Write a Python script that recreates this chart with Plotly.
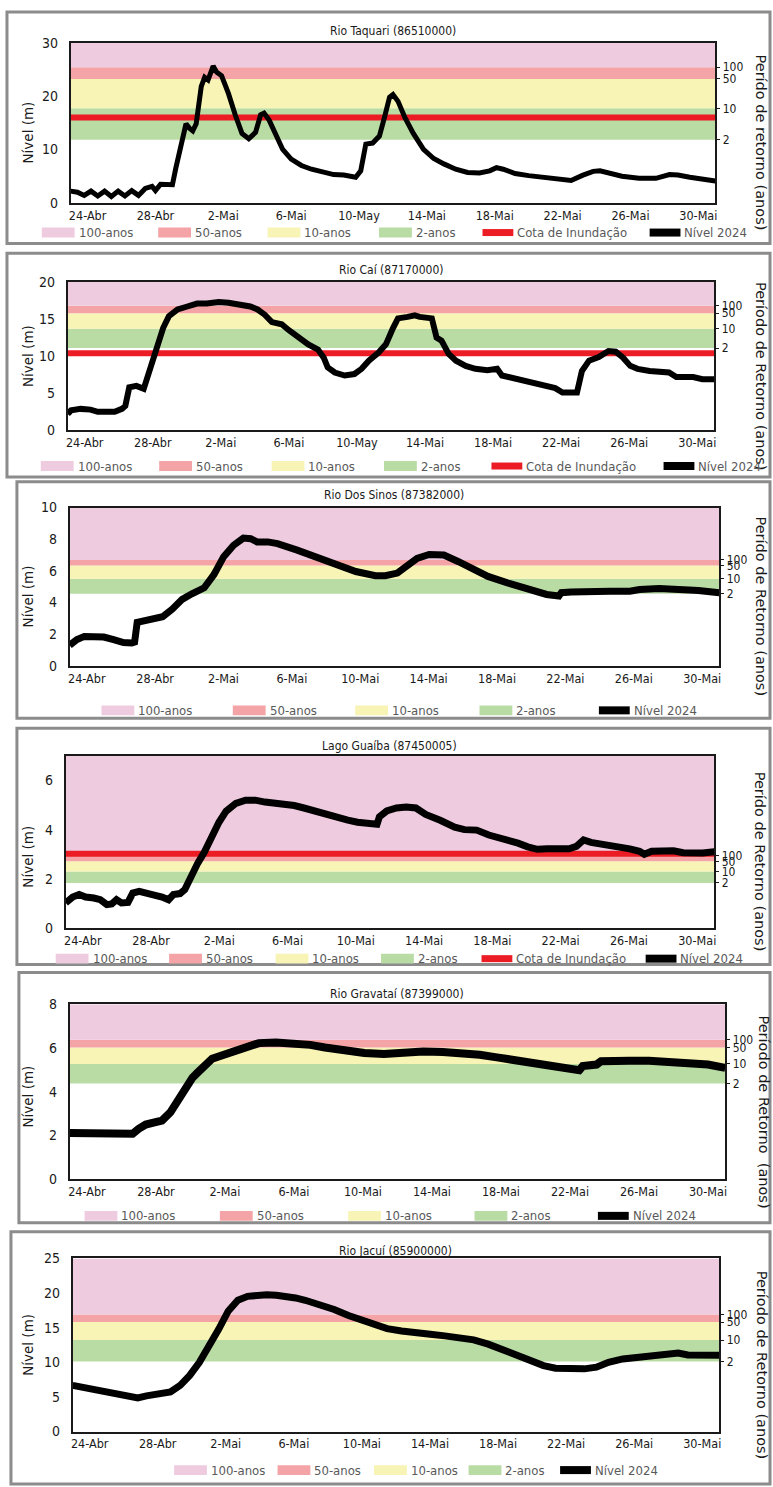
import pandas as pd
import plotly.graph_objects as go

# ---------------- DATA ----------------
inicio = pd.Timestamp("2024-04-23")
tick_dias = [1, 5, 9, 13, 17, 21, 25, 29, 33, 37]
rotulos_x = ["24-Abr", "28-Abr", "2-Mai", "6-Mai", "10-Mai", "14-Mai", "18-Mai", "22-Mai", "26-Mai", "30-Mai"]
rotulos_x_may = ["24-Abr", "28-Abr", "2-Mai", "6-Mai", "10-May", "14-Mai", "18-Mai", "22-Mai", "26-Mai", "30-Mai"]
periodos = ["2", "10", "50", "100"]

taquari_dia = [0.0, 0.4, 0.8, 1.2, 1.6, 2.0, 2.4, 2.8, 3.2, 3.6, 4.0, 4.4, 4.8, 5.0, 5.3, 5.8, 6.0, 6.2, 6.5,
               6.8, 7.0, 7.2, 7.4, 7.7, 7.9, 8.1, 8.4, 8.6, 8.9, 9.3, 9.7, 10.1, 10.5, 10.9, 11.2, 11.4, 11.7,
               12.1, 12.5, 13.0, 13.6, 14.2, 14.8, 15.5, 16.1, 16.8, 17.1, 17.4, 17.8, 18.2, 18.5, 18.8, 19.0,
               19.3, 19.7, 20.2, 20.8, 21.4, 22.0, 22.7, 23.4, 24.1, 24.7, 25.1, 25.5, 26.2, 27.0, 28.0, 29.0,
               29.5, 30.2, 30.8, 31.2, 31.7, 32.5, 33.5, 34.5, 35.3, 35.8, 36.5, 37.3, 38.0]
taquari_nivel = [2.2, 2.0, 1.4, 2.2, 1.3, 2.2, 1.2, 2.2, 1.3, 2.3, 1.4, 2.7, 3.1, 2.3, 3.5, 3.5, 3.4, 6.5, 10.5,
                 14.8, 14.0, 13.5, 14.8, 21.8, 23.5, 23.0, 25.6, 24.5, 23.8, 20.5, 16.5, 13.0, 12.0, 13.2, 16.5,
                 16.8, 15.5, 12.5, 10.0, 8.2, 7.0, 6.3, 5.9, 5.3, 5.2, 4.8, 6.0, 11.0, 11.2, 12.5, 16.0, 19.8,
                 20.3, 19.0, 16.0, 13.0, 10.0, 8.3, 7.3, 6.3, 5.7, 5.6, 6.0, 6.6, 6.3, 5.5, 5.1, 4.8, 4.4, 4.2,
                 5.2, 5.9, 6.0, 5.6, 5.0, 4.6, 4.6, 5.3, 5.2, 4.8, 4.4, 4.1]
taquari_limites = [11.8, 17.7, 23.2, 25.4]
taquari_cota = 16.0

cai_dia = [0.0, 0.2, 0.77, 1.34, 1.77, 2.34, 2.76, 3.19, 3.39, 3.62, 4.04, 4.47, 4.76, 5.18, 5.61, 5.95, 6.46,
           7.03, 7.6, 8.17, 8.88, 9.45, 10.16, 10.73, 11.16, 11.58, 12.0, 12.58, 13.0, 13.57, 14.14, 14.71,
           15.05, 15.28, 15.7, 16.28, 16.85, 17.27, 17.7, 18.27, 18.7, 19.12, 19.41, 19.98, 20.4, 20.69, 21.4,
           21.68, 21.97, 22.39, 22.82, 23.39, 23.96, 24.67, 25.24, 25.52, 26.09, 26.66, 27.09, 27.66, 28.23,
           28.65, 29.08, 29.5, 29.93, 30.22, 30.64, 31.21, 31.78, 32.21, 32.64, 33.06, 33.49, 34.2, 34.91,
           35.34, 35.77, 36.33, 36.76, 37.3, 38.0]
cai_nivel = [2.2, 2.7, 2.9, 2.8, 2.5, 2.5, 2.5, 2.9, 3.3, 5.8, 6.0, 5.6, 7.8, 11.2, 13.8, 15.4, 16.3, 16.7, 17.1,
             17.1, 17.3, 17.2, 17.0, 16.7, 16.3, 15.6, 14.6, 14.3, 13.5, 12.5, 11.6, 10.9, 9.8, 8.5, 7.8, 7.4,
             7.6, 8.3, 9.4, 10.5, 11.6, 13.8, 15.1, 15.3, 15.5, 15.3, 15.1, 12.5, 12.1, 10.3, 9.4, 8.7, 8.3, 8.1,
             8.3, 7.4, 7.1, 6.7, 6.5, 6.3, 5.9, 5.7, 5.1, 5.0, 5.1, 8.0, 9.4, 9.9, 10.7, 10.6, 9.8, 8.7, 8.3, 8.0,
             8.0, 7.8, 7.2, 7.3, 7.2, 6.9, 6.9]
cai_limites = [11.1, 13.7, 15.8, 16.8]
cai_cota = 10.4

sinos_dia = [0.0, 0.43, 0.86, 1.43, 2.0, 2.57, 3.15, 3.63, 3.8, 3.95, 4.29, 4.86, 5.44, 6.0, 6.58, 7.15, 7.87,
             8.44, 9.01, 9.59, 10.16, 10.59, 10.96, 11.59, 12.16, 13.31, 14.45, 15.6, 16.74, 17.89, 18.46, 19.17,
             19.75, 20.32, 21.03, 21.89, 22.75, 23.61, 24.47, 25.61, 26.76, 27.9, 28.62, 28.76, 29.33, 30.48,
             31.62, 32.77, 33.34, 34.49, 35.63, 36.78, 38.0]
sinos_nivel = [1.3, 1.66, 1.86, 1.86, 1.82, 1.66, 1.47, 1.45, 1.5, 2.75, 2.82, 3.02, 3.1, 3.58, 4.2, 4.55, 4.93,
               5.76, 6.9, 7.62, 8.07, 8.03, 7.83, 7.83, 7.72, 7.31, 6.83, 6.38, 5.96, 5.69, 5.69, 5.86, 6.27, 6.79,
               7.04, 7.0, 6.58, 6.13, 5.65, 5.24, 4.89, 4.51, 4.41, 4.62, 4.66, 4.72, 4.72, 4.72, 4.82, 4.89, 4.87,
               4.76, 4.62]
sinos_limites = [4.55, 5.51, 6.34, 6.69]

guaiba_dia = [0.0, 0.41, 0.79, 1.17, 1.65, 2.03, 2.41, 2.7, 2.98, 3.27, 3.65, 3.93, 4.31, 4.7, 5.07, 5.65, 6.03,
              6.31, 6.7, 6.98, 7.27, 7.55, 7.74, 8.12, 8.55, 8.98, 9.4, 9.97, 10.54, 11.11, 11.68, 12.25, 12.82,
              13.39, 13.96, 14.53, 15.1, 15.96, 16.53, 17.1, 17.67, 18.24, 18.38, 18.81, 19.38, 19.95, 20.52,
              21.09, 21.94, 22.79, 23.36, 24.08, 24.79, 25.36, 25.93, 26.5, 27.07, 27.64, 28.2, 28.77, 29.49,
              29.92, 30.34, 30.77, 31.34, 31.91, 32.48, 33.05, 33.62, 33.9, 34.33, 35.04, 35.61, 36.18, 36.75,
              37.32, 38.0]
guaiba_nivel = [1.02, 1.26, 1.36, 1.26, 1.22, 1.15, 0.95, 0.98, 1.15, 1.02, 1.04, 1.42, 1.49, 1.40, 1.36, 1.26,
                1.15, 1.36, 1.40, 1.56, 2.03, 2.37, 2.64, 3.08, 3.72, 4.30, 4.75, 5.07, 5.20, 5.20, 5.12, 5.08,
                5.08, 4.98, 4.88, 4.76, 4.64, 4.49, 4.39, 4.30, 4.23, 4.22, 4.52, 4.76, 4.88, 4.92, 4.88, 4.62,
                4.38, 4.10, 4.00, 3.98, 3.78, 3.68, 3.55, 3.45, 3.30, 3.20, 3.22, 3.20, 3.22, 3.32, 3.58, 3.48,
                3.42, 3.40, 3.32, 3.22, 3.12, 3.00, 3.12, 3.15, 3.14, 3.06, 3.02, 3.05, 3.10]
guaiba_limites = [1.83, 2.30, 2.71, 2.95]
guaiba_cota = 3.02

gravatai_dia = [0.0, 1.0, 2.14, 3.13, 3.65, 3.99, 4.41, 4.98, 5.35, 5.84, 6.26, 6.69, 7.12, 7.4, 7.83, 8.26,
                8.68, 9.25, 9.68, 10.25, 10.96, 11.96, 13.09, 13.95, 14.8, 15.94, 17.08, 18.22, 18.79, 19.5,
                20.49, 21.63, 22.77, 23.77, 24.76, 25.9, 27.04, 28.18, 29.17, 29.54, 29.74, 30.17, 30.54, 30.8,
                31.31, 32.45, 33.58, 34.72, 35.86, 37.0, 38.0]
gravatai_nivel = [2.11, 2.11, 2.11, 2.08, 2.08, 2.30, 2.50, 2.61, 2.68, 3.06, 3.58, 4.26, 4.64, 4.86, 5.24, 5.51,
                  5.62, 5.77, 5.96, 6.11, 6.22, 6.25, 6.22, 6.14, 6.02, 5.87, 5.77, 5.72, 5.77, 5.84, 5.84, 5.81,
                  5.77, 5.69, 5.57, 5.42, 5.27, 5.09, 4.97, 4.98, 5.17, 5.24, 5.24, 5.39, 5.42, 5.42, 5.42, 5.36,
                  5.32, 5.24, 5.09]
gravatai_limites = [4.37, 5.27, 6.02, 6.37]

jacui_dia = [0.0, 1.79, 2.92, 3.83, 4.34, 5.19, 5.75, 6.32, 6.88, 7.45, 8.01, 8.58, 9.14, 9.71, 10.28, 10.84,
             11.41, 11.97, 12.54, 13.1, 13.67, 14.52, 15.37, 16.21, 17.06, 17.91, 18.48, 19.33, 20.17, 21.02,
             21.87, 22.72, 23.57, 24.42, 25.26, 26.11, 26.96, 27.67, 28.38, 29.22, 30.07, 30.78, 31.49, 32.33,
             33.18, 34.03, 34.88, 35.59, 36.15, 36.86, 37.43, 38.0]
jacui_nivel = [6.67, 5.81, 5.24, 4.86, 5.14, 5.48, 5.71, 6.67, 8.10, 10.0, 12.14, 14.76, 17.38, 18.95, 19.52,
               19.71, 19.76, 19.67, 19.52, 19.29, 18.95, 18.33, 17.62, 16.76, 16.10, 15.48, 14.86, 14.52, 14.38,
               14.05, 13.81, 13.57, 13.24, 12.62, 11.81, 11.05, 10.24, 9.52, 9.14, 9.05, 9.05, 9.29, 10.0, 10.48,
               10.71, 10.95, 11.19, 11.33, 11.05, 10.95, 11.05, 11.0]
jacui_limites = [10.1, 13.2, 15.8, 16.9]

# ---------------- STYLE / LAYOUT ----------------
W, H = 773, 1487
COND = "DejaVu Sans Condensed, Liberation Sans Narrow, sans-serif"
WIDE = "DejaVu Sans, Liberation Sans, sans-serif"
cores_faixa = ["#B9DBA4", "#F8F4B5", "#F4A4A6", "#EFCBE0"]  # 2, 10, 50, 100 anos
nomes_faixa = ["2-anos", "10-anos", "50-anos", "100-anos"]
COTA_COR = "#EC1C24"
CINZA_TXT = "#595959"
TXT = "#1a1a1a"

def px(x):
    return x / W

def py(y):
    return 1 - y / H

paineis = [
    dict(titulo="Rio Taquari (86510000)", dia=taquari_dia, nivel=taquari_nivel, lim=taquari_limites,
         cota=taquari_cota, ymax=30, dtick=10, rot=rotulos_x_may, dir_titulo="Perído de retorno (anos)",
         plot=(69, 717, 35, 197), borda=(5, 4, 772, 238), ttl_y=23, leg_y=227, lw=5,
         leg=[40, 157, 267, 379, 480, 648], dir_x=763, nivel_dy=10),
    dict(titulo="Rio Caí (87170000)", dia=cai_dia, nivel=cai_nivel, lim=cai_limites,
         cota=cai_cota, ymax=20, dtick=5, rot=rotulos_x_may, dir_titulo="Período de Retorno (anos)",
         plot=(66, 716, 277, 427), borda=(5, 248, 772, 474), ttl_y=265, leg_y=463, lw=6,
         leg=[39, 158, 271, 384, 489, 662], dir_x=763, nivel_dy=0),
    dict(titulo="Rio Dos Sinos (87382000)", dia=sinos_dia, nivel=sinos_nivel, lim=sinos_limites,
         cota=None, ymax=10, dtick=2, rot=rotulos_x, dir_titulo="Perído de Retorno (anos)",
         plot=(68, 721, 505, 665), borda=(15, 479, 772, 718), ttl_y=492, leg_y=710, lw=7,
         leg=[100, 232, 355, 480, None, 597], dir_x=762, nivel_dy=10),
    dict(titulo="Lago Guaíba (87450005)", dia=guaiba_dia, nivel=guaiba_nivel, lim=guaiba_limites,
         cota=guaiba_cota, ymax=7, dtick=2, rot=rotulos_x, dir_titulo="Perído de Retorno (anos)",
         plot=(64, 716, 756, 930), borda=(15, 728, 772, 967), ttl_y=746, leg_y=961, lw=7,
         leg=[54, 168, 275, 381, 479, 644], dir_x=762, nivel_dy=15),
    dict(titulo="Rio Gravataí (87399000)", dia=gravatai_dia, nivel=gravatai_nivel, lim=gravatai_limites,
         cota=None, ymax=8, dtick=2, rot=rotulos_x, dir_titulo="Período de Retorno  (anos)",
         plot=(68, 727, 1007, 1184), borda=(17, 975, 772, 1228), ttl_y=997, leg_y=1221, lw=8,
         leg=[83, 219, 348, 475, None, 596], dir_x=765, nivel_dy=5),
    dict(titulo="Rio Jacuí (85900000)", dia=jacui_dia, nivel=jacui_nivel, lim=jacui_limites,
         cota=None, ymax=25, dtick=5, rot=rotulos_x, dir_titulo="Período de Retorno (anos)",
         plot=(71, 721, 1264, 1439), borda=(9, 1237, 772, 1492), ttl_y=1257, leg_y=1478, lw=7,
         leg=[173, 277, 374, 469, None, 558], dir_x=764, nivel_dy=0),
]

fig = go.Figure()
shapes, annotations = [], []
layout = dict(width=W, height=H, margin=dict(l=0, r=0, t=0, b=0), showlegend=False,
              paper_bgcolor="white", plot_bgcolor="white")

x_ini = inicio
x_fim = inicio + pd.Timedelta(days=38)
tickvals = [inicio + pd.Timedelta(days=d) for d in tick_dias]

def sfx(k):
    return "" if k == 1 else str(k)

for i, p in enumerate(paineis):
    n = i + 1
    nr = i + 7
    xa, ya, yr = "x" + sfx(n), "y" + sfx(n), "y" + sfx(nr)
    l, r, t, b = p["plot"]
    bx0, by0, bx1, by1 = p["borda"]
    shapes.append(dict(type="rect", xref="paper", yref="paper", x0=px(bx0), x1=px(bx1), y0=py(by0), y1=py(by1),
                       line=dict(color="#8C8C8C", width=3), fillcolor="rgba(0,0,0,0)", layer="below"))
    layout["xaxis" + sfx(n)] = dict(domain=[px(l), px(r)], anchor=ya, range=[x_ini, x_fim], type="date",
                                    tickvals=tickvals, ticktext=p["rot"], showgrid=False, zeroline=False,
                                    showline=True, linecolor=TXT, linewidth=1.5, mirror=True, ticks="",
                                    tickfont=dict(family=COND, size=12.5, color=TXT), fixedrange=True)
    layout["yaxis" + sfx(n)] = dict(domain=[py(b), py(t)], anchor=xa, range=[0, p["ymax"]], dtick=p["dtick"],
                                    tick0=0, showgrid=False, zeroline=False, showline=True, linecolor=TXT,
                                    linewidth=1.5, mirror=True, ticks="", ticklabelstandoff=8,
                                    tickfont=dict(family=COND, size=14, color=TXT), fixedrange=True)
    layout["yaxis" + sfx(nr)] = dict(overlaying=ya, anchor=xa, side="right", range=[0, p["ymax"]],
                                     tickvals=p["lim"], ticktext=periodos, ticks="outside", ticklen=4,
                                     tickcolor=TXT, showgrid=False, zeroline=False, showline=False,
                                     tickfont=dict(family=COND, size=12, color=TXT), fixedrange=True)
    for j, cor in enumerate(cores_faixa):
        y0 = p["lim"][j]
        y1 = p["lim"][j + 1] if j + 1 < len(p["lim"]) else p["ymax"]
        shapes.append(dict(type="rect", xref=xa + " domain", yref=ya, x0=0, x1=1, y0=y0, y1=y1,
                           fillcolor=cor, line=dict(width=0), layer="below"))
    if p["cota"] is not None:
        shapes.append(dict(type="line", xref=xa + " domain", yref=ya, x0=0, x1=1, y0=p["cota"], y1=p["cota"],
                           line=dict(color=COTA_COR, width=6), layer="below"))
    xs = [inicio + pd.Timedelta(days=d) for d in p["dia"]]
    fig.add_trace(go.Scatter(x=xs, y=p["nivel"], mode="lines", xaxis=xa, yaxis=ya,
                             line=dict(color="black", width=p["lw"]), hoverinfo="skip"))
    fig.add_trace(go.Scatter(x=[xs[0]], y=[p["lim"][0]], mode="markers", xaxis=xa, yaxis=yr,
                             marker=dict(opacity=0), hoverinfo="skip"))
    annotations.append(dict(xref="paper", yref="paper", x=px((l + r) / 2), y=py(p["ttl_y"]), text=p["titulo"],
                            showarrow=False, xanchor="center", yanchor="middle",
                            font=dict(family=COND, size=12, color=TXT)))
    annotations.append(dict(xref="paper", yref="paper", x=px(26), y=py((t + b) / 2 + p["nivel_dy"]),
                            text="Nível (m)", textangle=-90, showarrow=False, xanchor="center",
                            yanchor="middle", font=dict(family=WIDE, size=13.5, color=TXT)))
    annotations.append(dict(xref="paper", yref="paper", x=px(p["dir_x"]), y=py((t + b) / 2 + 20),
                            text=p["dir_titulo"], textangle=90, showarrow=False, xanchor="center",
                            yanchor="middle", font=dict(family=WIDE, size=14.5, color=TXT)))
    ly = p["leg_y"]
    itens = [(nomes_faixa[3], cores_faixa[3], "box"), (nomes_faixa[2], cores_faixa[2], "box"),
             (nomes_faixa[1], cores_faixa[1], "box"), (nomes_faixa[0], cores_faixa[0], "box"),
             ("Cota de Inundação", COTA_COR, "line"), ("Nível 2024", "black", "line")]
    for (nome, cor, tipo), lx in zip(itens, p["leg"]):
        if lx is None:
            continue
        if tipo == "box":
            shapes.append(dict(type="rect", xref="paper", yref="paper", x0=px(lx), x1=px(lx + 33),
                               y0=py(ly + 5), y1=py(ly - 5), fillcolor=cor, line=dict(width=0)))
            tx = lx + 35
        else:
            shapes.append(dict(type="line", xref="paper", yref="paper", x0=px(lx + 3), x1=px(lx + 34),
                               y0=py(ly), y1=py(ly), line=dict(color=cor, width=8 if cor == "black" else 7)))
            tx = lx + 36
        annotations.append(dict(xref="paper", yref="paper", x=px(tx), y=py(ly), text=nome, showarrow=False,
                                xanchor="left", yanchor="middle",
                                font=dict(family=COND, size=13, color=CINZA_TXT)))

layout["shapes"] = shapes
layout["annotations"] = annotations
fig.update_layout(**layout)
fig.write_html("out.html", config={"displayModeBar": False},
               post_script="document.body.style.margin='0';document.body.style.overflow='hidden';")
